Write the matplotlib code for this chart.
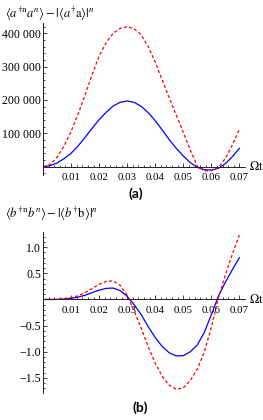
import matplotlib
matplotlib.use("Agg")
import matplotlib.pyplot as plt
from matplotlib.ticker import FixedLocator, FuncFormatter

plt.rcParams['font.family'] = ['Liberation Serif', 'DejaVu Serif']
plt.rcParams['mathtext.fontset'] = 'stix'

# time axis (Omega t)
omega_t = [0.0, 0.0025, 0.005, 0.0075, 0.01, 0.0125, 0.015, 0.0175, 0.02, 0.0225,
           0.025, 0.0275, 0.03, 0.0325, 0.035, 0.0375, 0.04, 0.0425, 0.045, 0.0475,
           0.05, 0.0525, 0.055, 0.0575, 0.06, 0.0625, 0.065, 0.0675, 0.07]

# panel (a): <a^+n a^n> - |<a^+ a>|^n   (thousands)
a_blue = [0, 3, 11, 24, 40, 62, 88, 115, 141, 163,
          182, 193, 197, 193, 181, 162, 138, 110, 81, 55,
          32, 12, -2, -9, -10, -5, 9, 30, 55]
a_red = [0, 6, 28, 62, 105, 158, 215, 276, 332, 372,
         400, 415, 420, 413, 396, 360, 314, 260, 206, 155,
         103, 50, 2, -13, -12, -3, 25, 65, 112]

# panel (b): <b^+n b^n> - |<b^+ b>|^n
b_blue = [0, 0, 0.001, 0.008, 0.022, 0.045, 0.08, 0.13, 0.178, 0.212,
          0.218, 0.17, 0.06, -0.10, -0.29, -0.52, -0.73, -0.90, -1.02, -1.08,
          -1.075, -1.00, -0.87, -0.63, -0.29, 0.06, 0.33, 0.57, 0.80]
b_red = [0, 0, 0.002, 0.015, 0.035, 0.07, 0.13, 0.21, 0.29, 0.345,
         0.355, 0.27, 0.08, -0.22, -0.55, -0.90, -1.22, -1.47, -1.64, -1.72,
         -1.69, -1.55, -1.33, -1.00, -0.54, 0.03, 0.47, 0.87, 1.23]

x_ticks = [0.01, 0.02, 0.03, 0.04, 0.05, 0.06, 0.07]
a_yticks = [100000, 200000, 300000, 400000]
b_yticks = [-1.5, -1.0, -0.5, 0.5, 1.0]

W, H = 263, 420
fig = plt.figure(figsize=(W / 100, H / 100), dpi=100)


def make_axes(top_px, bottom_px):
    return fig.add_axes([43 / W, 1 - bottom_px / H, (245 - 43) / W, (bottom_px - top_px) / H])


def style_axes(ax, yticks, yminor, yfmt):
    for s in ['top', 'right']:
        ax.spines[s].set_visible(False)
    ax.spines['bottom'].set_position(('data', 0))
    ax.spines['left'].set_position(('data', 0))
    for s in ['bottom', 'left']:
        ax.spines[s].set_linewidth(0.7)
        ax.spines[s].set_color('#222222')
    ax.set_xlim(0, 0.072)
    ax.xaxis.set_major_locator(FixedLocator(x_ticks))
    ax.xaxis.set_minor_locator(FixedLocator([i * 0.002 for i in range(1, 36)]))
    ax.yaxis.set_major_locator(FixedLocator(yticks))
    ax.yaxis.set_minor_locator(FixedLocator(yminor))
    ax.xaxis.set_major_formatter(FuncFormatter(lambda v, p: f"{v:.2f}"))
    ax.yaxis.set_major_formatter(FuncFormatter(yfmt))
    ax.tick_params(which='both', direction='in', color='#222222', width=0.6)
    ax.tick_params(which='major', length=2.8)
    ax.tick_params(which='minor', length=1.5)
    ax.tick_params(axis='x', labelsize=7.8, pad=4.5)
    ax.tick_params(axis='y', labelsize=8.6, pad=1.5)
    ax.patch.set_visible(False)


# ---- panel (a)
ax1 = make_axes(23, 175)
ax1.plot(omega_t, [v * 1000 for v in a_blue], color='#0000ff', lw=0.9)
ax1.plot(omega_t, [v * 1000 for v in a_red], color='#ff0000', lw=0.9, dashes=(2.5, 1.8))
ax1.set_ylim(-25000, 431000)
style_axes(ax1, a_yticks, [i * 20000 for i in range(-1, 22)],
           lambda v, p: f"{int(v):,}".replace(",", " "))
fig.text(5 / W, 1 - 14 / H,
         r'$\langle a^{\dagger\mathrm{n}}a^{n}\rangle - |\langle a^{\dagger}\mathrm{a}\rangle|^{n}$',
         fontsize=9, va='center', ha='left')
ax1.text(0.0735, 0, r'$\Omega$t', fontsize=9, va='center', ha='left', clip_on=False)
fig.text(136 / W, 1 - 194 / H, '(a)', family=['Lato', 'DejaVu Sans'],
         fontweight='bold', fontsize=10, ha='center', va='center')

# ---- panel (b)
ax2 = make_axes(231.7, 393.3)
ax2.plot(omega_t, b_blue, color='#0000ff', lw=0.9)
ax2.plot(omega_t, b_red, color='#ff0000', lw=0.9, dashes=(2.5, 1.8))
ax2.set_ylim(-1.795, 1.296)
style_axes(ax2, b_yticks, [i * 0.1 for i in range(-17, 13)],
           lambda v, p: f"{v:.1f}".replace("-", "\u2212"))
fig.text(5 / W, 1 - 214 / H,
         r'$\langle b^{\dagger\mathrm{n}}b^{n}\rangle - |\langle b^{\dagger}\mathrm{b}\rangle|^{n}$',
         fontsize=9, va='center', ha='left')
ax2.text(0.0735, 0, r'$\Omega$t', fontsize=9, va='center', ha='left', clip_on=False)
fig.text(140 / W, 1 - 408 / H, '(b)', family=['Lato', 'DejaVu Sans'],
         fontweight='bold', fontsize=10, ha='center', va='center')

fig.savefig('out.png', dpi=100)
